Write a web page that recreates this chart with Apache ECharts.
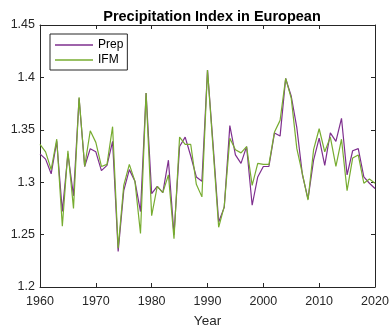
<!DOCTYPE html>
<html>
<head>
<meta charset="utf-8">
<script src="https://cdn.jsdelivr.net/npm/echarts@6/dist/echarts.min.js"></script>
<style>html,body{margin:0;padding:0;background:#fff}#c{width:391px;height:328px}</style>
</head>
<body>
<div id="c"></div>
<script>
var years = [];
for (var y = 1960; y <= 2020; y++) years.push(y);
var prep = [1.327,1.322,1.308,1.339,1.272,1.327,1.287,1.380,1.315,1.332,
            1.329,1.311,1.316,1.339,1.234,1.292,1.312,1.301,1.272,1.385,
            1.289,1.296,1.290,1.321,1.250,1.334,1.343,1.325,1.305,1.301,
            1.407,1.336,1.262,1.276,1.354,1.326,1.318,1.334,1.278,1.305,
            1.315,1.315,1.347,1.344,1.399,1.382,1.352,1.307,1.284,1.321,
            1.342,1.316,1.347,1.339,1.361,1.307,1.330,1.332,1.305,1.299,1.294];
var ifm  = [1.336,1.329,1.312,1.341,1.258,1.330,1.275,1.381,1.315,1.349,
            1.338,1.315,1.317,1.353,1.237,1.297,1.317,1.301,1.251,1.385,
            1.268,1.296,1.290,1.307,1.246,1.343,1.336,1.336,1.298,1.286,
            1.407,1.332,1.257,1.277,1.342,1.331,1.328,1.334,1.297,1.318,
            1.317,1.317,1.348,1.359,1.399,1.380,1.332,1.308,1.283,1.331,
            1.351,1.329,1.343,1.315,1.341,1.292,1.323,1.326,1.299,1.303,1.299];
var seriesNames = ['Prep', 'IFM'];
var titleText = 'Precipitation Index in European';

function pairs(v){ return years.map(function(yr,i){ return [yr, v[i]]; }); }

var font = 'Liberation Sans, Arial, Helvetica, sans-serif';
var axisCol = '#262626';
var chart = echarts.init(document.getElementById('c'), null, {renderer:'canvas'});
var baseAxisLine = {show:true, lineStyle:{color:axisCol, width:1}};
var tick = {show:true, inside:true, length:4, lineStyle:{color:axisCol, width:1}};
chart.setOption({
  animation:false,
  backgroundColor:'#fff',
  title:{text:titleText, left:207, textAlign:'center', top:4,
    textStyle:{fontFamily:font, fontSize:14.5, fontWeight:'bold', color:'#000'}},
  grid:{left:40, right:16, top:25, bottom:41, containLabel:false, outerBoundsMode:'none'},
  legend:{
    data:seriesNames, orient:'vertical', left:50, top:34,
    backgroundColor:'#fff', borderColor:'#262626', borderWidth:1,
    padding:[5,4,4,5], itemGap:3, itemWidth:38, itemHeight:13,
    icon:'path://M0,6 L38,6 L38,7.3 L0,7.3 Z',
    textStyle:{fontFamily:font, fontSize:12, color:'#000'}
  },
  xAxis:[
    {type:'value', min:1960, max:2020, interval:10, position:'bottom',
     name:'Year', nameLocation:'middle', nameGap:27,
     nameTextStyle:{fontFamily:font, fontSize:13.5, color:axisCol},
     axisLine:baseAxisLine, axisTick:tick, splitLine:{show:false},
     axisLabel:{fontFamily:font, fontSize:12.5, color:axisCol, margin:8,
       formatter:function(v){ return String(Math.round(v)); }}},
    {type:'value', min:1960, max:2020, interval:10, position:'top',
     axisLine:baseAxisLine, axisTick:tick, splitLine:{show:false},
     axisLabel:{show:false}}
  ],
  yAxis:[
    {type:'value', min:1.2, max:1.45, interval:0.05, position:'left',
     axisLine:baseAxisLine, axisTick:tick, splitLine:{show:false},
     axisLabel:{fontFamily:font, fontSize:12.5, color:axisCol, margin:5,
       formatter:function(v){ return String(Math.round(v*100)/100); }}},
    {type:'value', min:1.2, max:1.45, interval:0.05, position:'right',
     axisLine:baseAxisLine, axisTick:tick, splitLine:{show:false},
     axisLabel:{show:false}}
  ],
  series:[
    {name:seriesNames[0], type:'line', data:pairs(prep), symbol:'none',
     lineStyle:{color:'#7E2F8E', width:1.2}, itemStyle:{color:'#7E2F8E'}},
    {name:seriesNames[1], type:'line', data:pairs(ifm), symbol:'none',
     lineStyle:{color:'#77AC30', width:1.2}, itemStyle:{color:'#77AC30'}}
  ]
});
</script>
</body>
</html>
